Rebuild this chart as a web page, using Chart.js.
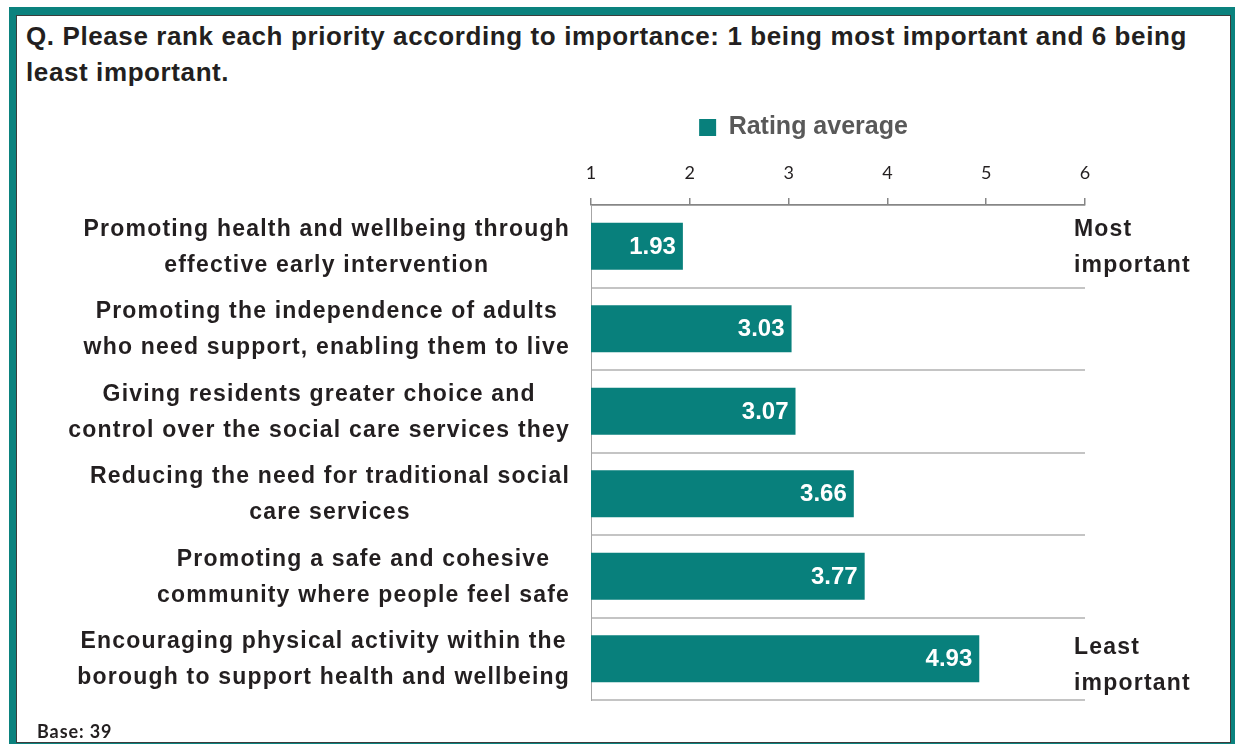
<!DOCTYPE html>
<html>
<head>
<meta charset="utf-8">
<title>Priority ranking</title>
<script src="https://cdn.jsdelivr.net/npm/chart.js@4.4.1/dist/chart.umd.min.js"></script>
<style>
  html, body { margin: 0; padding: 0; background: #ffffff; overflow: hidden; }
  body { width: 1235px; height: 744px; position: relative; font-family: "Liberation Sans", Arial, sans-serif; }
  #frame { position: absolute; left: 9px; top: 7px; width: 1226px; height: 750px; background: #0b827e; }
  #panel { position: absolute; left: 16px; top: 15px; width: 1213px; height: 726px; background: #ffffff; border: 1px solid #3c3c3c; }
  #question { position: absolute; left: 26px; top: 18px; font-weight: bold; font-size: 26px; line-height: 36px; letter-spacing: 0.6px; color: #231f20; white-space: nowrap; }
  #base { position: absolute; left: 37px; top: 720px; font-family: Lato, "Liberation Sans", sans-serif; font-weight: bold; font-size: 18px; letter-spacing: 0.9px; color: #231f20; }
  #wrap { position: absolute; left: 17px; top: 16px; width: 1212px; height: 725px; }
</style>
</head>
<body>
<div id="frame"></div>
<div id="panel"></div>
<div id="question">Q. Please rank each priority according to importance: 1 being most important and 6 being<br>least important.</div>
<div id="wrap"><canvas id="chart" width="1212" height="725"></canvas></div>
<div id="base">Base: 39</div>
<script>
// Priorities, each split over two lines as printed beside its bar
const categories = [
  ["Promoting health and wellbeing through", "effective early intervention"],
  ["Promoting the independence of adults", "who need support, enabling them to live"],
  ["Giving residents greater choice and", "control over the social care services they"],
  ["Reducing the need for traditional social", "care services"],
  ["Promoting a safe and cohesive", "community where people feel safe"],
  ["Encouraging physical activity within the", "borough to support health and wellbeing"]
];
// Average rank given to each priority (1 = most important, 6 = least)
const ratingAverage = [1.93, 3.03, 3.07, 3.66, 3.77, 4.93];
const seriesName = "Rating average";
// Rank scale shown along the top axis
const rankTicks = [1, 2, 3, 4, 5, 6];
// Notes at the two ends of the ranking
const topNote = ["Most", "important"];
const bottomNote = ["Least", "important"];

const TEAL = "#08807c";
const INK = "#231f20";
const LABEL_FONT = 'bold 23px "Liberation Sans", Arial, sans-serif';
const LABEL_SPACING = "1.2px";
const LINE_GAP = 36;

// Draws the wrapped category names, the value labels and the end notes
const sideText = {
  id: "sideText",
  afterDraw(chart) {
    const ctx = chart.ctx;
    const yScale = chart.scales.y;
    const area = chart.chartArea;
    ctx.save();
    ctx.textBaseline = "middle";

    // category names: block right-aligned to the axis, lines centred within it
    ctx.font = LABEL_FONT;
    ctx.letterSpacing = LABEL_SPACING;
    ctx.fillStyle = INK;
    ctx.textAlign = "center";
    const blockRight = area.left - 21;
    categories.forEach((lines, i) => {
      const cy = yScale.getPixelForValue(i);
      const widest = Math.max(...lines.map(t => ctx.measureText(t).width));
      const cx = blockRight - widest / 2;
      lines.forEach((t, k) => {
        ctx.fillText(t, cx, cy + 1 + (k - (lines.length - 1) / 2) * LINE_GAP);
      });
    });

    // end notes to the right of the plot
    ctx.textAlign = "left";
    const noteX = area.right - 11;
    const firstY = yScale.getPixelForValue(0);
    const lastY = yScale.getPixelForValue(categories.length - 1);
    topNote.forEach((t, k) => ctx.fillText(t, noteX, firstY + 1 - LINE_GAP / 2 + k * LINE_GAP));
    bottomNote.forEach((t, k) => ctx.fillText(t, noteX, lastY - 11 + k * LINE_GAP));

    // value labels inside the bar ends
    ctx.letterSpacing = "0px";
    ctx.font = 'bold 24px "Liberation Sans", Arial, sans-serif';
    ctx.fillStyle = "#ffffff";
    ctx.textAlign = "right";
    chart.getDatasetMeta(0).data.forEach((bar, i) => {
      ctx.fillText(ratingAverage[i].toFixed(2), bar.x - 7, bar.y + 1);
    });
    ctx.restore();
  }
};

new Chart(document.getElementById("chart"), {
  type: "bar",
  data: {
    labels: categories,
    datasets: [{
      label: seriesName,
      data: ratingAverage,
      backgroundColor: TEAL,
      borderWidth: 0,
      categoryPercentage: 0.57,
      barPercentage: 1.0
    }]
  },
  options: {
    indexAxis: "y",
    responsive: false,
    animation: false,
    layout: { padding: { left: 505, right: 144, top: 90, bottom: 41 } },
    plugins: {
      tooltip: { enabled: false },
      legend: {
        position: "top",
        align: "center",
        labels: {
          color: "#595959",
          font: { family: '"Liberation Sans", Arial, sans-serif', size: 25, weight: "bold" },
          boxWidth: 17,
          boxHeight: 17,
          padding: 9
        }
      }
    },
    scales: {
      x: {
        type: "linear",
        position: "top",
        min: rankTicks[0],
        max: rankTicks[rankTicks.length - 1],
        afterBuildTicks(scale) { scale.ticks = rankTicks.map(v => ({ value: v })); },
        afterFit(scale) { scale.height = 55; },
        ticks: {
          color: INK,
          padding: 14,
          font: { family: 'Lato, "Liberation Sans", sans-serif', size: 18 }
        },
        grid: { drawOnChartArea: false, drawTicks: true, tickLength: 7, color: "#868686", lineWidth: 1.5 },
        border: { display: true, color: "#868686", width: 1.5 }
      },
      y: {
        type: "category",
        afterFit(scale) { scale.width = 69; },
        ticks: { display: false },
        grid: { color: "#c4c4c4", lineWidth: 2, drawTicks: false },
        border: { display: true, color: "#a6a6a6", width: 1 }
      }
    }
  },
  plugins: [sideText]
});
</script>
</body>
</html>
